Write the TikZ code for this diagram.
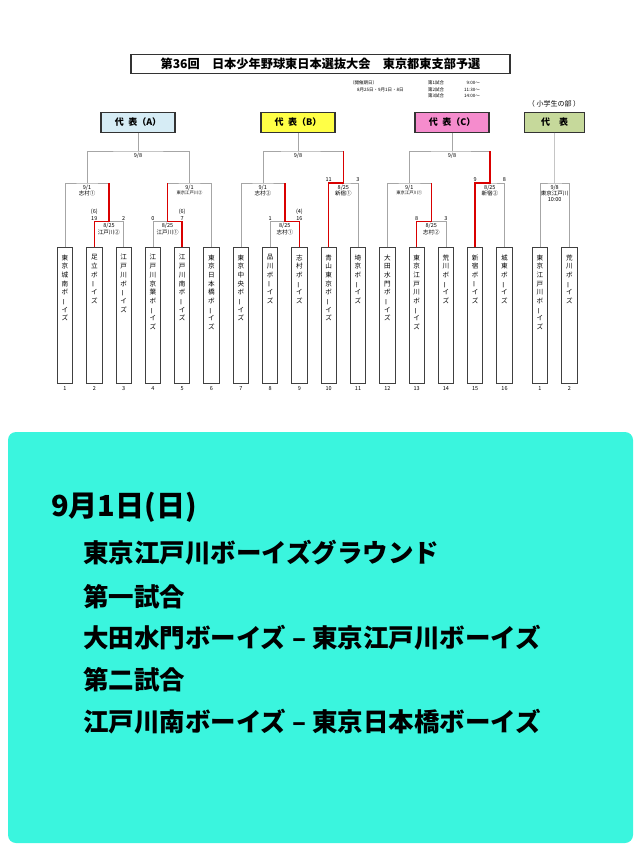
\documentclass[tikz,border=0pt]{standalone}
\usepackage{fontspec}
\setmainfont{Noto Sans CJK JP}
\usetikzlibrary{positioning}
\definecolor{headA}{RGB}{214,236,245}
\definecolor{headB}{RGB}{255,255,70}
\definecolor{headC}{RGB}{245,140,205}
\definecolor{headE}{RGB}{198,217,155}
\definecolor{panel}{RGB}{58,245,222}
\newcommand\cho{\smash{\rotatebox[origin=c]{90}{ー}}}
\newcommand\boys{ボ\\\cho\\イ\\ズ}
\tikzset{
  team/.style={draw=black!75, fill=white, line width=0.8pt, minimum width=15.3pt,
    minimum height=136pt, inner sep=0pt, anchor=north},
  tname/.style={align=center, inner sep=0pt, font=\fontsize{6.6}{8.7}\selectfont},
  lbl/.style={inner sep=0pt, align=center, font=\fontsize{5.5}{5.6}\selectfont},
  score/.style={inner sep=0pt, align=center, anchor=south, font=\fontsize{5.5}{7}\selectfont},
  head/.style={draw=black!80, line width=1.3pt, minimum width=74pt, minimum height=20pt,
    inner sep=0pt, font=\bfseries\fontsize{9}{9}\selectfont},
  bline/.style={draw=black!35, line width=0.6pt},
  win/.style={draw=red!85!black, line width=1.5pt},
  info/.style={inner sep=0pt, anchor=west, font=\fontsize{4.5}{5}\selectfont},
  big/.style={inner sep=0pt, anchor=west, font=\bfseries\fontsize{25.5}{30}\selectfont},
}
\begin{document}
\begin{tikzpicture}[x=1pt,y=-1pt]
  \useasboundingbox (0,0) rectangle (640,853);

  % title and schedule
  \node[draw=black!80, line width=1.2pt, minimum width=379pt, minimum height=19pt, inner sep=0pt,
    font=\bfseries\fontsize{12.2}{12}\selectfont] (title) at (320.5,63.7)
    {第36回　日本少年野球東日本選抜大会　東京都東支部予選};
  \node[info] (kaisai) at (350,83) {（開催期日）};
  \node[info] (days) at (357,89.5) {8月25日・9月1日・8日};
  \node[info] (g1) at (428,83) {第1試合};
  \node[info] (g2) at (428,89.5) {第2試合};
  \node[info] (g3) at (428,96) {第3試合};
  \node[info, anchor=east] (tm1) at (480,83) {9:00～};
  \node[info, anchor=east] (tm2) at (480,89.5) {11:30～};
  \node[info, anchor=east] (tm3) at (480,96) {14:00～};
  \node[font=\fontsize{7}{7}\selectfont, inner sep=0pt] (shogaku) at (554,104.3) {（ 小学生の部 ）};

  % representative boxes
  \node[head, fill=headA] (hA) at (138,122.3) {代\hspace{0.5em}表（A）};
  \node[head, fill=headB] (hB) at (298,122.3) {代\hspace{0.5em}表（B）};
  \node[head, fill=headC] (hC) at (452,122.3) {代\hspace{0.5em}表（C）};
  \node[head, fill=headE, minimum width=60pt] (hE) at (554.6,122.3) {代\hspace{1em}表};

  % teams
  \foreach \i/\nm in {1/{東\\京\\城\\南\\\boys}, 2/{足\\立\\\boys}, 3/{江\\戸\\川\\\boys},
      4/{江\\戸\\川\\京\\葉\\\boys}, 5/{江\\戸\\川\\南\\\boys}, 6/{東\\京\\日\\本\\橋\\\boys},
      7/{東\\京\\中\\央\\\boys}, 8/{品\\川\\\boys}, 9/{志\\村\\\boys}, 10/{青\\山\\東\\京\\\boys},
      11/{埼\\京\\\boys}, 12/{大\\田\\水\\門\\\boys}, 13/{東\\京\\江\\戸\\川\\\boys},
      14/{荒\\川\\\boys}, 15/{新\\宿\\\boys}, 16/{城\\東\\\boys}} {
    \node[team] (t\i) at ({65+(\i-1)*29.3},247.3) {};
    \node[tname, below=7pt of t\i.north] (tn\i) {\nm};
    \node[lbl, below=2pt of t\i.south] (n\i) {\i};
  }
  \node[team] (e1) at (540,247.3) {};
  \node[tname, below=7pt of e1.north] (en1) {東\\京\\江\\戸\\川\\\boys};
  \node[lbl, below=2pt of e1.south] (m1) {1};
  \node[team] (e2) at (569.3,247.3) {};
  \node[tname, below=7pt of e2.north] (en2) {荒\\川\\\boys};
  \node[lbl, below=2pt of e2.south] (m2) {2};

  % bracket junctions
  \coordinate (a23) at (108.95,221.5);
  \coordinate (a1) at (87,183);
  \coordinate (a45) at (167.55,221.5);
  \coordinate (a6) at (189.5,183);
  \coordinate (aA) at (138,151);
  \coordinate (a89) at (284.75,221.5);
  \coordinate (a7) at (262.8,183);
  \coordinate (a1011) at (343.35,183);
  \coordinate (aB) at (298,151);
  \coordinate (a1314) at (431.25,221.5);
  \coordinate (a12) at (409.3,183);
  \coordinate (a1516) at (489.85,183);
  \coordinate (aC) at (452,151);
  \coordinate (aE) at (554.65,183);

  % block A
  \draw[bline] (t2.north) |- (a23) -| (t3.north);
  \draw[bline] (t1.north) |- (a1) -| (a23);
  \draw[bline] (t4.north) |- (a45) -| (t5.north);
  \draw[bline] (a45) |- (a6) -| (t6.north);
  \draw[bline] (a1) |- (aA) -| (a6);
  \draw[bline] (hA) -- (aA);
  \draw[win] (t2.north) |- (a23) -- (a23 |- a1);
  \draw[win] (t5.north) |- (a45) -- (a45 |- a6);

  % block B
  \draw[bline] (t8.north) |- (a89) -| (t9.north);
  \draw[bline] (t7.north) |- (a7) -| (a89);
  \draw[bline] (t10.north) |- (a1011) -| (t11.north);
  \draw[bline] (a7) |- (aB) -| (a1011);
  \draw[bline] (hB) -- (aB);
  \draw[win] (t9.north) |- (a89) -- (a89 |- a7);
  \draw[win] (t10.north) |- (a1011) -- (a1011 |- aB);

  % block C
  \draw[bline] (t13.north) |- (a1314) -| (t14.north);
  \draw[bline] (t12.north) |- (a12) -| (a1314);
  \draw[bline] (t15.north) |- (a1516) -| (t16.north);
  \draw[bline] (a12) |- (aC) -| (a1516);
  \draw[bline] (hC) -- (aC);
  \draw[win] (t13.north) |- (a1314) -- (a1314 |- a12);
  \draw[win] (t15.north) |- (a1516) -- (a1516 |- aC);

  % elementary
  \draw[bline] (e1.north) |- (aE) -| (e2.north);
  \draw[bline] (hE) -- (aE);

  % dates, venues, scores
  \node[lbl, below=1.5pt of aA] (dA) {9/8};
  \node[lbl, below=1.5pt of aB] (dB) {9/8};
  \node[lbl, below=1.5pt of aC] (dC) {9/8};
  \node[lbl, below=1.5pt of a1] (d1) {9/1\\志村①};
  \node[lbl, below=1.5pt of a6] (d6) {9/1\\\fontsize{4.3}{5.6}\selectfont 東京江戸川②};
  \node[lbl, below=1.5pt of a23] (d23) {8/25\\江戸川②};
  \node[lbl, below=1.5pt of a45] (d45) {8/25\\江戸川①};
  \node[lbl, below=1.5pt of a7] (d7) {9/1\\志村②};
  \node[lbl, below=1.5pt of a89] (d89) {8/25\\志村①};
  \node[lbl, below=1.5pt of a1011] (d1011) {8/25\\新宿①};
  \node[lbl, below=1.5pt of a12] (d12) {9/1\\\fontsize{4.3}{5.6}\selectfont 東京江戸川①};
  \node[lbl, below=1.5pt of a1314] (d1314) {8/25\\志村②};
  \node[lbl, below=1.5pt of a1516] (d1516) {8/25\\新宿②};
  \node[lbl, below=1.5pt of aE] (dE) {9/8\\東京江戸川\\10:00};
  \node[score] (s2) at ([yshift=1pt]t2.north |- a23) {(6)\\19};
  \node[score] (s3) at ([yshift=1pt]t3.north |- a23) {2};
  \node[score] (s4) at ([yshift=1pt]t4.north |- a45) {0};
  \node[score] (s5) at ([yshift=1pt]t5.north |- a45) {(6)\\7};
  \node[score] (s8) at ([yshift=1pt]t8.north |- a89) {1};
  \node[score] (s9) at ([yshift=1pt]t9.north |- a89) {(4)\\16};
  \node[score] (s10) at ([yshift=1pt]t10.north |- a1011) {11};
  \node[score] (s11) at ([yshift=1pt]t11.north |- a1011) {3};
  \node[score] (s13) at ([yshift=1pt]t13.north |- a1314) {8};
  \node[score] (s14) at ([yshift=1pt]t14.north |- a1314) {3};
  \node[score] (s15) at ([yshift=1pt]t15.north |- a1516) {9};
  \node[score] (s16) at ([yshift=1pt]t16.north |- a1516) {8};

  % notice panel
  \fill[panel, rounded corners=8pt] (8,432) rectangle (633,843);
  \node[big, font=\bfseries\fontsize{29}{30}\selectfont] (day) at (51,507) {9月1日(日)};
  \node[big] (ground) at (83,553) {東京江戸川ボーイズグラウンド};
  \node[big] (first) at (83,597) {第一試合};
  \node[big] (match1) at (83,638) {大田水門ボーイズ – 東京江戸川ボーイズ};
  \node[big] (second) at (83,680) {第二試合};
  \node[big] (match2) at (83,722) {江戸川南ボーイズ – 東京日本橋ボーイズ};
\end{tikzpicture}
\end{document}
